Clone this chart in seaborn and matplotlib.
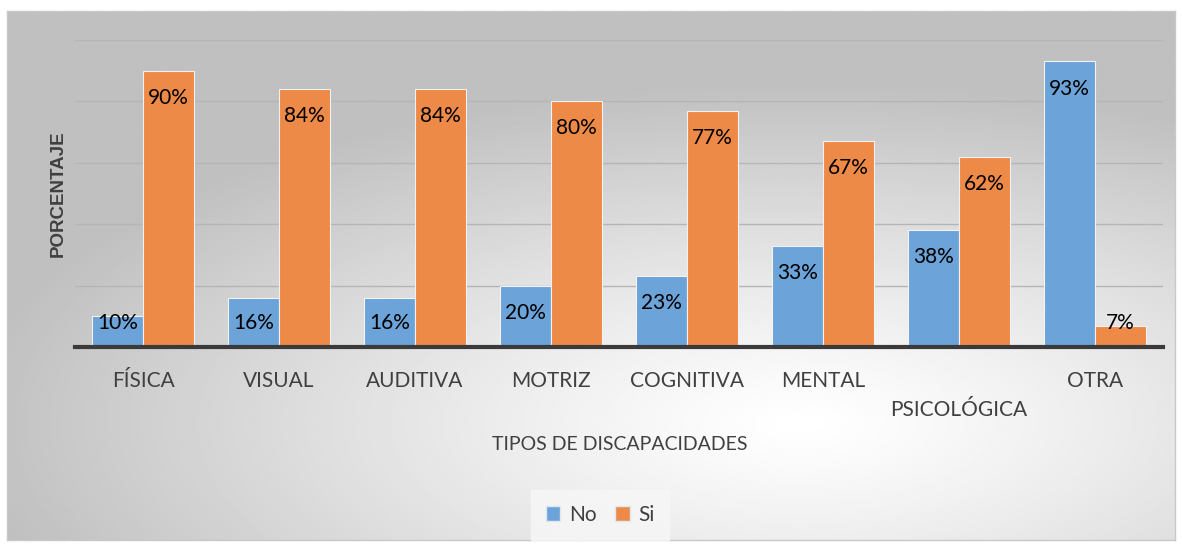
import numpy as np
import pandas as pd
import matplotlib.pyplot as plt
import seaborn as sns

# data
categorias = ['FÍSICA', 'VISUAL', 'AUDITIVA', 'MOTRIZ', 'COGNITIVA', 'MENTAL', 'PSICOLÓGICA', 'OTRA']
no_vals = [10, 16, 16, 20, 23, 33, 38, 93]
si_vals = [90, 84, 84, 80, 77, 67, 62, 7]
series = ['No', 'Si']
colores = {'No': '#6CA3D8', 'Si': '#EE8A48'}

df = pd.DataFrame({
    'tipo': categorias * 2,
    'respuesta': ['No'] * len(categorias) + ['Si'] * len(categorias),
    'pct': no_vals + si_vals,
})

sns.set_style('white')
plt.rcParams['font.family'] = ['Lato', 'DejaVu Sans']
txt = '#404040'

fig = plt.figure(figsize=(11.82, 5.47), dpi=100)

# radial gray background of the chart area
bg = fig.add_axes([7 / 1182, 7 / 547, 1168 / 1182, 529 / 547])
yy, xx = np.mgrid[0:1:300j, 0:1:600j]
r = np.sqrt(((xx - 0.68) / 1.0) ** 2 + ((yy - 0.78) / 0.9) ** 2)
shade = 1.0 - 0.25 * np.clip(r / 0.72, 0, 1) ** 1.2
bg.imshow(shade, cmap='gray', vmin=0, vmax=1, aspect='auto', extent=[0, 1, 0, 1])
bg.set_xticks([])
bg.set_yticks([])
for s in bg.spines.values():
    s.set_color('#c8c8c8')
    s.set_linewidth(1)

ax = fig.add_axes([75 / 1182, 200 / 547, 1088 / 1182, 307 / 547])
ax.set_facecolor('none')
sns.barplot(data=df, x='tipo', y='pct', hue='respuesta', hue_order=series,
            palette=colores, width=0.75, gap=0, ax=ax, legend=False,
            edgecolor='#f2f2f2', linewidth=0.8, saturation=1)

ax.set_ylim(0, 100)
ax.set_xlim(-0.5, len(categorias) - 0.5)
ax.set_yticks([20, 40, 60, 80, 100])
ax.set_yticklabels([])
ax.tick_params(axis='y', length=0)
ax.yaxis.grid(True, color='#b5b5b5', linewidth=1)
ax.set_axisbelow(True)
for s in ['top', 'right', 'left']:
    ax.spines[s].set_visible(False)
ax.spines['bottom'].set_color('#3a3a3a')
ax.spines['bottom'].set_linewidth(3)

# value labels near the top inside each bar
for cont in ax.containers:
    for bar in cont:
        h = bar.get_height()
        ax.text(bar.get_x() + bar.get_width() / 2, max(h - 8.8, 7.8), f'{h:.0f}%',
                ha='center', va='center', fontsize=15, color='black')

etiquetas = ['\n' + c if c == 'PSICOLÓGICA' else c for c in categorias]
ax.set_xticks(range(len(categorias)))
ax.set_xticklabels(etiquetas, fontsize=15, color=txt, linespacing=1.6)
ax.tick_params(axis='x', length=0, pad=17)

ax.set_xlabel('')
ax.set_ylabel('')
fig.text(620 / 1182, 1 - 445 / 547, 'TIPOS DE DISCAPACIDADES', ha='center', va='center',
         fontsize=14, color=txt)
fig.text(58 / 1182, 1 - 194 / 547, 'PORCENTAJE', ha='center', va='center',
         rotation=90, fontsize=13.5, weight='bold', color=txt,
         family=['Liberation Sans', 'DejaVu Sans'])

handles = [plt.Rectangle((0, 0), 1, 1, facecolor=colores[k], edgecolor='#dde8f3') for k in series]
leg = fig.legend(handles, series, loc='center', bbox_to_anchor=(600 / 1182, 1 - 515 / 547),
                 ncol=2, frameon=True, fontsize=15, handlelength=0.7, handleheight=0.7,
                 handletextpad=0.4, columnspacing=0.9, borderpad=0.7, fancybox=False,
                 labelcolor=txt)
leg.get_frame().set_facecolor('#f7f7f7')
leg.get_frame().set_edgecolor('#f7f7f7')

fig.savefig('out.png', dpi=100, facecolor='white')
